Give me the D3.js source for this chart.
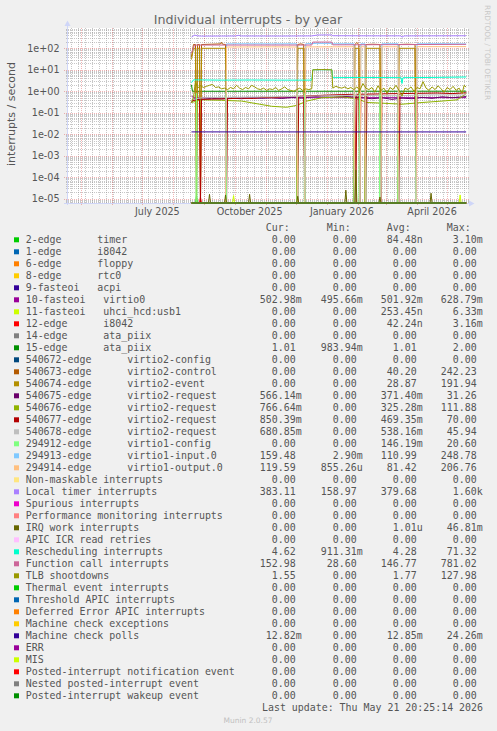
<!DOCTYPE html>
<html><head><meta charset="utf-8">
<script src="https://cdn.jsdelivr.net/npm/d3@7"></script>
<style>
html,body{margin:0;padding:0;background:#f0f0f0;}
svg{display:block;}
text{white-space:pre;}
</style></head><body>
<svg id="chart" width="497" height="731"></svg>
<script>
// ---------------- DATA ----------------
const titleText = "Individual interrupts - by year";
const yAxisTitle = "interrupts / second";
const lastUpdate = "Last update: Thu May 21 20:25:14 2026";
const timeStart = "2025-04-16T20:25:14Z";
const timeEnd   = "2026-05-21T20:25:14Z";
const dataStartDay = "2025-08-19T00:00:00Z"; // day 0 of the series below

const yTickValues = [1e-5, 1e-4, 1e-3, 1e-2, 1e-1, 1e0, 1e1, 1e2];
const yTickLabels = ["1e-05","1e-04","1e-03","1e-02","1e-01","1e+00","1e+01","1e+02"];
const xTickDates  = ["2025-07-16","2025-10-16","2026-01-16","2026-04-16"];
const xTickLabels = ["July 2025","October 2025","January 2026","April 2026"];

const legendNames = [
 "2-edge      timer","1-edge      i8042","6-edge      floppy","8-edge      rtc0",
 "9-fasteoi   acpi","10-fasteoi   virtio0","11-fasteoi   uhci_hcd:usb1","12-edge      i8042",
 "14-edge      ata_piix","15-edge      ata_piix",
 "540672-edge      virtio2-config","540673-edge      virtio2-control","540674-edge      virtio2-event",
 "540675-edge      virtio2-request","540676-edge      virtio2-request","540677-edge      virtio2-request",
 "540678-edge      virtio2-request","294912-edge      virtio1-config","294913-edge      virtio1-input.0",
 "294914-edge      virtio1-output.0","Non-maskable interrupts","Local timer interrupts","Spurious interrupts",
 "Performance monitoring interrupts","IRQ work interrupts","APIC ICR read retries","Rescheduling interrupts",
 "Function call interrupts","TLB shootdowns","Thermal event interrupts","Threshold APIC interrupts",
 "Deferred Error APIC interrupts","Machine check exceptions","Machine check polls","ERR","MIS",
 "Posted-interrupt notification event","Nested posted-interrupt event","Posted-interrupt wakeup event"];
const legendColors = [
 "#00CC00","#0066B3","#FF8000","#FFCC00","#330099","#990099","#CCFF00","#FF0000","#808080","#008F00",
 "#00487D","#B35A00","#B38F00","#6B006B","#8FB300","#B30000","#BEBEBE","#80FF80","#80C9FF","#FFC080",
 "#FFE680","#AA80FF","#EE00CC","#FF8080","#666600","#FFBFFF","#00FFCC","#CC6699","#999900",
 "#00CC00","#0066B3","#FF8000","#FFCC00","#330099","#990099","#CCFF00","#FF0000","#808080","#008F00"];
const curVals = ["0.00","0.00","0.00","0.00","0.00","502.98m","0.00","0.00","0.00","1.01","0.00","0.00","0.00","566.14m","766.64m","850.39m","680.85m","0.00","159.48","119.59","0.00","383.11","0.00","0.00","0.00","0.00","4.62","152.98","1.55","0.00","0.00","0.00","0.00","12.82m","0.00","0.00","0.00","0.00","0.00"];
const minVals = ["0.00","0.00","0.00","0.00","0.00","495.66m","0.00","0.00","0.00","983.94m","0.00","0.00","0.00","0.00","0.00","0.00","0.00","0.00","2.90m","855.26u","0.00","158.97","0.00","0.00","0.00","0.00","911.31m","28.60","0.00","0.00","0.00","0.00","0.00","0.00","0.00","0.00","0.00","0.00","0.00"];
const avgVals = ["84.48n","0.00","0.00","0.00","0.00","501.92m","253.45n","42.24n","0.00","1.01","0.00","40.20","28.87","371.40m","325.28m","469.35m","538.16m","146.19m","110.99","81.42","0.00","379.68","0.00","0.00","1.01u","0.00","4.28","146.77","1.77","0.00","0.00","0.00","0.00","12.85m","0.00","0.00","0.00","0.00","0.00"];
const maxVals = ["3.10m","0.00","0.00","0.00","0.00","628.79m","6.33m","3.16m","0.00","2.00","0.00","242.23","191.94","31.26","111.88","70.00","45.94","20.60","248.78","206.76","0.00","1.60k","0.00","0.00","46.81m","0.00","71.32","781.02","127.98","0.00","0.00","0.00","0.00","24.26m","0.00","0.00","0.00","0.00","0.00"];

// series: [day since dataStartDay, value]
const s01 = [[0,0],[4,0],[5,1.4e-5],[6,0],[274,0]];
const s02 = [[0,0],[274,0]];
const s03 = [[0,0],[274,0]];
const s04 = [[0,0],[274,0]];
const s05 = [[0,0],[274,0]];
const s06 = [[0,0.6],[2,0.5],[60,0.5],[140,0.505],[274,0.503]];
const s07 = [[0,0],[41,0],[42,1.4e-5],[43,0],[267,0],[268,1.5e-5],[269,0],[274,0]];
const s08 = [[0,0],[8,0],[9,1.2e-5],[10,0],[274,0]];
const s09 = [[0,0],[274,0]];
const s10 = [[0,2.0],[1,1.0],[274,1.01]];
const s11 = [[0,0],[274,0]];
const s12 = [[0,40],[2,150],[4,150],[5,0],[6,150],[8,150],[9,0],[10,150],[20,155],[29,160],[30,190],[31,155],[34,150],[35,0],[105,0],[106,150],[109,160],[112,150],[113,0],[162,0],[163,150],[165,185],[167,150],[168,0],[173,0],[174,150],[181,155],[188,150],[189,0],[206,0],[207,150],[215,155],[223,150],[224,0],[274,0]];
const s13 = [[0,30],[2,100],[4,100],[5,0],[6,100],[8,100],[9,0],[10,100],[34,100],[35,0],[105,0],[106,100],[112,100],[113,0],[162,0],[163,100],[167,100],[168,0],[173,0],[174,100],[188,100],[189,0],[206,0],[207,100],[223,100],[224,0],[274,0]];
const s14 = [[0,0.3],[3,0.45],[10,0.42],[20,0.47],[30,0.44],[40,0.48],[50,0.45],[60,0.5],[70,0.47],[80,0.5],[90,0.46],[100,0.52],[110,0.48],[120,0.55],[130,0.6],[140,0.62],[150,0.58],[160,0.55],[170,0.5],[180,0.45],[190,0.5],[200,0.42],[210,0.48],[220,0.45],[230,0.52],[240,0.47],[250,0.55],[260,0.5],[274,0.566]];
const s15 = [[0,0.3],[10,0.4],[30,0.38],[50,0.35],[68,0.25],[80,0.2],[95,0.18],[105,0.22],[115,0.35],[130,0.5],[150,0.55],[165,0.45],[175,0.3],[190,0.28],[210,0.25],[230,0.3],[250,0.35],[265,0.4],[274,0.77]];
const s16 = [[0,0.35],[5,0.4],[8,0.42],[9,0],[10,0.42],[20,0.43],[34,0.45],[35,0],[36,0.45],[50,0.48],[62,0.46],[70,0.52],[82,0.5],[90,0.55],[105,0.58],[106,0],[107,0.58],[112,0.6],[113,0],[114,0.6],[130,0.65],[150,0.7],[163,0.72],[164,0],[165,0.72],[167,0.72],[168,0],[169,0.73],[173,0.73],[174,0],[175,0.74],[188,0.75],[189,0],[190,0.76],[206,0.78],[207,0],[208,0.78],[223,0.8],[224,0],[225,0.8],[245,0.83],[260,0.78],[274,0.85]];
const s17 = [[0,0.4],[10,0.5],[40,0.52],[80,0.55],[120,0.6],[160,0.65],[200,0.62],[240,0.68],[274,0.68]];
const s18 = [[0,0],[4.5,0],[5,0.8],[5.5,0],[34,0],[34.5,0.8],[35,0],[105.2,0],[105.7,0.8],[106.2,0],[112.5,0],[113,0.8],[113.5,0],[162,0],[162.5,0.8],[163,0],[167,0],[167.5,0.8],[168,0],[173.2,0],[173.7,0.8],[174.2,0],[187.5,0],[188,0.8],[188.5,0],[205.8,0],[206.3,0.8],[206.8,0],[223.5,0],[224,0.8],[224.5,0],[274,0]];
const s19 = [[0,0],[34,0],[35,160],[50,162],[80,160],[105,162],[106,0],[113,0],[114,162],[125,170],[140,170],[141,162],[162,162],[163,0],[168,0],[169,162],[173,162],[174,0],[189,0],[190,162],[206,163],[207,0],[224,0],[225,162],[250,163],[274,159]];
const s20 = [[0,0],[34,0],[35,115],[80,117],[105,115],[106,0],[113,0],[114,116],[162,118],[163,0],[168,0],[169,118],[173,118],[174,0],[189,0],[190,118],[206,118],[207,0],[224,0],[225,119],[274,119.6]];
const s21 = [[0,0],[274,0]];
const s22 = [[0,330],[3,410],[6,380],[10,370],[30,372],[44,375],[47,400],[50,375],[90,372],[120,378],[126,415],[140,418],[141,385],[180,380],[209,380],[210,330],[212,378],[240,380],[274,383]];
const s23 = [[0,0],[274,0]];
const s24 = [[0,0],[274,0]];
const s25 = [[0,0],[17,0],[18,1.6e-5],[19,0],[33,0],[34,1.5e-5],[35,0],[57,0],[58,1.6e-5],[59,0],[105,0],[106,1.3e-5],[107,0],[153,0],[154,2.5e-5],[155,0],[163,0],[164,2.2e-4],[165,0],[187,0],[188,1.2e-5],[189,0],[238,0],[239,1.8e-5],[240,0],[274,0]];
const s26 = [[0,0],[274,0]];
const s27 = [[0,2.5],[2,3.4],[30,3.3],[60,3.35],[90,3.3],[120,3.3],[121,10],[140,10],[141,4.3],[170,4.4],[209,4.3],[210,2.3],[211,4.3],[240,4.4],[274,4.62]];
const s28 = [[0,60],[3,142],[35,142],[80,142],[120,142],[121,195],[140,195],[141,145],[200,148],[274,153]];
const s29 = [[0,0.3],[2,0.5],[4,3.0],[6,1.4],[9,1.8],[12,1.5],[15,1.7],[18,1.9],[21,2.1],[24,1.5],[27,1.6],[30,1.3],[33,1.4],[36,1.2],[39,1.5],[42,1.3],[45,1.9],[48,1.4],[51,1.2],[54,1.5],[57,1.3],[60,1.9],[63,1.6],[66,1.3],[69,1.2],[72,1.4],[75,1.1],[78,1.3],[81,1.2],[84,1.5],[87,1.1],[90,1.3],[93,1.6],[96,1.2],[99,1.1],[102,1.0],[105,1.2],[108,1.4],[111,1.1],[114,1.3],[117,1.2],[120,1.3],[121,10],[130,10.3],[140,10],[141,1.4],[144,1.7],[147,1.5],[150,1.4],[153,1.6],[156,1.3],[159,1.5],[162,1.2],[165,1.6],[168,1.1],[171,2.3],[174,1.4],[177,1.2],[180,1.5],[183,0.9],[186,1.8],[189,1.1],[192,1.4],[195,0.8],[198,1.5],[201,1.2],[204,1.9],[207,1.1],[210,0.6],[213,1.4],[216,1.2],[219,1.6],[222,1.0],[225,1.5],[228,1.3],[231,2.8],[234,1.4],[237,1.1],[240,1.6],[243,1.2],[246,1.8],[249,1.3],[252,0.9],[255,1.5],[258,1.2],[261,1.7],[264,1.1],[267,1.4],[270,0.8],[272,1.9],[274,1.55]];
const s30 = [[0,0],[274,0]];
const s31 = [[0,0],[274,0]];
const s32 = [[0,0],[274,0]];
const s33 = [[0,0],[274,0]];
const s34 = [[0,0.01285],[274,0.01282]];
const s35 = [[0,0],[274,0]];
const s36 = [[0,0],[274,0]];
const s37 = [[0,0],[274,0]];
const s38 = [[0,0],[274,0]];
const s39 = [[0,0],[274,0]];
const seriesData = [s01,s02,s03,s04,s05,s06,s07,s08,s09,s10,s11,s12,s13,s14,s15,s16,s17,s18,s19,s20,
  s21,s22,s23,s24,s25,s26,s27,s28,s29,s30,s31,s32,s33,s34,s35,s36,s37,s38,s39];

// ---------------- DRAW ----------------
const svg = d3.select("#chart");
const P = {left:67, right:468, top:28, bottom:203};
const x = d3.scaleUtc().domain([new Date(timeStart), new Date(timeEnd)]).range([P.left, P.right]);
const y = d3.scaleLog().domain([Math.pow(10,-5.2), Math.pow(10,2.945)]).range([P.bottom, P.top]).clamp(true);
const day0 = new Date(dataStartDay).getTime();
const toDate = d => new Date(day0 + d*86400000);
const FONT = "'DejaVu Sans', sans-serif";
const MONO = "'DejaVu Sans Mono', monospace";
const TXT = "#555";

svg.append("rect").attr("x",0).attr("y",0).attr("width",497).attr("height",731).attr("fill","#f0f0f0");
svg.append("rect").attr("x",P.left).attr("y",P.top).attr("width",P.right-P.left).attr("height",P.bottom-P.top).attr("fill","#ffffff");

const grid = svg.append("g");
const gridColor = "rgba(143,143,143,0.5)";
const mgridColor = "rgba(222,79,79,0.42)";
// minor horizontal (log)
const [lo, hi] = y.domain();
for (let k = -6; k <= 3; k++) {
  for (let m = 2; m <= 9; m++) {
    const v = m*Math.pow(10,k);
    if (v < lo || v > hi) continue;
    const yy = Math.round(y(v)) + 0.5;
    grid.append("line").attr("x1",P.left-1).attr("x2",P.right+1).attr("y1",yy).attr("y2",yy)
      .attr("stroke",gridColor).attr("stroke-width",1).attr("stroke-dasharray","1,1");
  }
}
// minor vertical (weekly)
d3.utcMonday.range(x.domain()[0], x.domain()[1]).forEach(t => {
  const xx = Math.round(x(t)) + 0.5;
  grid.append("line").attr("x1",xx).attr("x2",xx).attr("y1",P.top).attr("y2",P.bottom+1)
    .attr("stroke",gridColor).attr("stroke-width",1).attr("stroke-dasharray","1,1");
});
// major horizontal
yTickValues.forEach(v => {
  const yy = Math.round(y(v)) + 0.5;
  grid.append("line").attr("x1",P.left-3).attr("x2",P.right+2).attr("y1",yy).attr("y2",yy)
    .attr("stroke",mgridColor).attr("stroke-width",1).attr("stroke-dasharray","1,1");
});
// major vertical (monthly)
d3.utcMonth.range(x.domain()[0], x.domain()[1]).forEach(t => {
  const xx = Math.round(x(t)) + 0.5;
  grid.append("line").attr("x1",xx).attr("x2",xx).attr("y1",P.top).attr("y2",P.bottom+3)
    .attr("stroke",mgridColor).attr("stroke-width",1).attr("stroke-dasharray","1,1");
});

// axes
const axisColor = "#CFD6F8";
svg.append("line").attr("x1",P.left+0.5).attr("x2",P.left+0.5).attr("y1",P.bottom+2).attr("y2",24)
  .attr("stroke",axisColor).attr("stroke-width",1);
svg.append("path").attr("d",`M${P.left-2.5},26 L${P.left+3.5},26 L${P.left+0.5},20.5 Z`).attr("fill",axisColor);
svg.append("line").attr("x1",P.left-3).attr("x2",P.right+3).attr("y1",P.bottom+0.5).attr("y2",P.bottom+0.5)
  .attr("stroke",axisColor).attr("stroke-width",1);
svg.append("path").attr("d",`M${P.right+1},${P.bottom-2.5} L${P.right+1},${P.bottom+3.5} L${P.right+6.5},${P.bottom+0.5} Z`).attr("fill",axisColor);

// y tick labels
yTickValues.forEach((v,i) => {
  svg.append("text").attr("x",59.5).attr("y",y(v)+3.5).attr("text-anchor","end")
    .attr("font-family",FONT).attr("font-size","9.6px").attr("fill",TXT).text(yTickLabels[i]);
});
// x tick labels
xTickDates.forEach((d,i) => {
  svg.append("text").attr("x",x(new Date(d+"T00:00:00Z"))).attr("y",215).attr("text-anchor","middle")
    .attr("font-family",FONT).attr("font-size","9.6px").attr("fill",TXT).text(xTickLabels[i]);
});

// data lines
svg.append("clipPath").attr("id","clip").append("rect")
  .attr("x",P.left).attr("y",P.top).attr("width",P.right-P.left+1).attr("height",P.bottom-P.top+1);
const gData = svg.append("g").attr("clip-path","url(#clip)");
const line = d3.line().x(p => x(toDate(p[0]))).y(p => y(p[1]));
seriesData.forEach((s,i) => {
  gData.append("path").attr("d",line(s)).attr("fill","none")
    .attr("stroke",legendColors[i]).attr("stroke-width",1).attr("stroke-linejoin","miter");
});

// title
svg.append("text").attr("x",248).attr("y",23.5).attr("text-anchor","middle")
  .attr("font-family",FONT).attr("font-size","12.7px").attr("fill","#666").text(titleText);
// y axis title
svg.append("text").attr("transform","translate(15,114) rotate(-90)").attr("text-anchor","middle")
  .attr("font-family",FONT).attr("font-size","11px").attr("fill",TXT).text(yAxisTitle);
// watermark
svg.append("text").attr("transform","translate(485,5) rotate(90)").attr("text-anchor","start")
  .attr("font-family",FONT).attr("font-size","7.4px").attr("fill","#c8c8c8").text("RRDTOOL / TOBI OETIKER");

// legend
const colNum = [295.7, 356.7, 416.7, 476.7];
const headers = ["Cur:","Min:","Avg:","Max:"];
headers.forEach((h,j) => {
  svg.append("text").attr("x",colNum[j]-6).attr("y",231).attr("text-anchor","end")
    .attr("font-family",MONO).attr("font-size","9.93px").attr("fill",TXT).text(h);
});
const cols = [curVals, minVals, avgVals, maxVals];
legendNames.forEach((name,i) => {
  const cy = 239.7 + 12*i;
  svg.append("rect").attr("x",14).attr("y",cy-2.4).attr("width",5).attr("height",5).attr("fill",legendColors[i]);
  svg.append("text").attr("x",25.7).attr("y",cy+3.5).attr("font-family",MONO).attr("font-size","9.93px")
    .attr("fill",TXT).text(name);
  cols.forEach((arr,j) => {
    const m = arr[i].match(/^([\d.]+)([a-zA-Z]?)$/);
    svg.append("text").attr("x",colNum[j]).attr("y",cy+3.5).attr("text-anchor","end")
      .attr("font-family",MONO).attr("font-size","9.93px").attr("fill",TXT).text(m[1]);
    if (m[2]) svg.append("text").attr("x",colNum[j]).attr("y",cy+3.5)
      .attr("font-family",MONO).attr("font-size","9.93px").attr("fill",TXT).text(m[2]);
  });
});
svg.append("text").attr("x",483).attr("y",711).attr("text-anchor","end")
  .attr("font-family",MONO).attr("font-size","9.93px").attr("fill",TXT).text(lastUpdate);
svg.append("text").attr("x",248).attr("y",722.5).attr("text-anchor","middle")
  .attr("font-family",FONT).attr("font-size","7.5px").attr("fill","#c0c0c0").text("Munin 2.0.57");
</script></body></html>
